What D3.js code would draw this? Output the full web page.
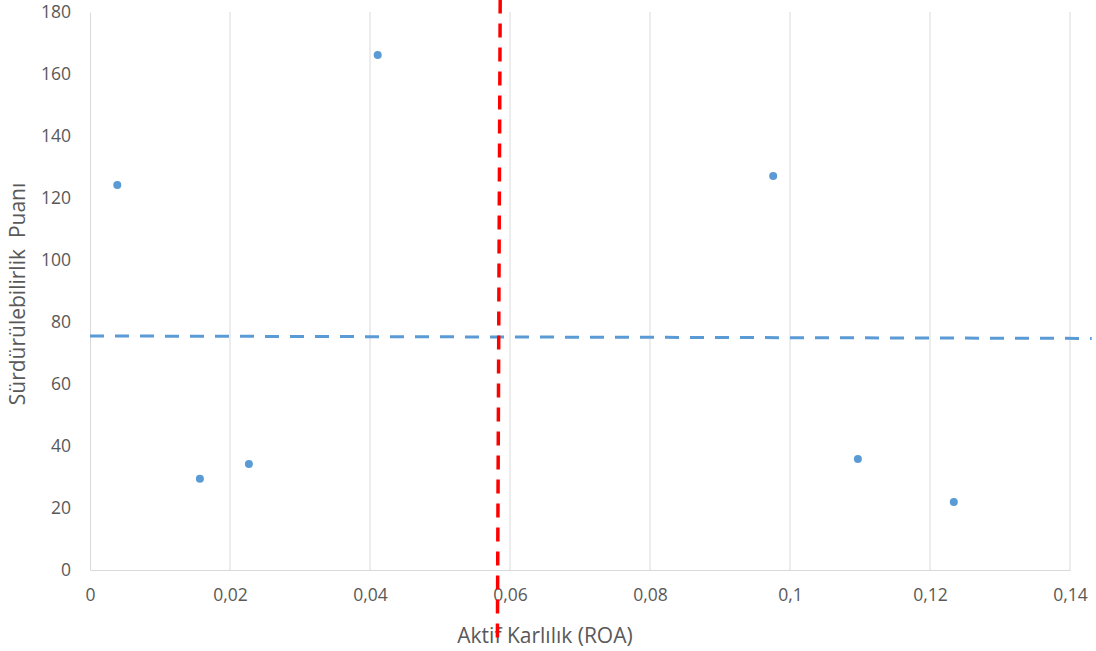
<!DOCTYPE html>
<html><head><meta charset="utf-8">
<script src="https://cdn.jsdelivr.net/npm/d3@7"></script>
<style>body{margin:0;background:#fff}svg{display:block}text{font-family:"Open Sans",sans-serif;fill:#595959}</style>
</head><body><svg id="c" width="1096" height="651"></svg>
<script>
const roa = [0.0039, 0.0157, 0.0227, 0.0411, 0.0976, 0.1097, 0.1234];
const score = [124.2, 29.4, 34.2, 166.1, 127.1, 35.8, 21.9];
const xTicks = [0, 0.02, 0.04, 0.06, 0.08, 0.1, 0.12, 0.14];
const yTicks = [0, 20, 40, 60, 80, 100, 120, 140, 160, 180];
const hLineX = [0, 0.1431];
const hLineY = [75.5, 74.7];
const vLineX = [0.0586, 0.0582];
const vLineY = [184, -22];

const svg = d3.select("#c");
const x = d3.scaleLinear().domain([0, 0.14]).range([90, 1070]);
const y = d3.scaleLinear().domain([0, 180]).range([570, 12]);
const fmt = d => String(d).replace(".", ",");

svg.append("g").selectAll("line").data(xTicks.slice(1)).join("line")
  .attr("x1", d => x(d)).attr("x2", d => x(d)).attr("y1", y(0)).attr("y2", y(180))
  .attr("stroke", "#d9d9d9").attr("stroke-width", 1);

const xa = svg.append("g").attr("transform", `translate(0,${y(0)})`)
  .call(d3.axisBottom(x).tickValues(xTicks).tickFormat(fmt).tickSize(0).tickPadding(19));
xa.select(".domain").attr("stroke", "#d9d9d9");
xa.selectAll("text").attr("font-size", 17.5).style("fill", "#595959");

const ya = svg.append("g").attr("transform", `translate(${x(0)},0)`)
  .call(d3.axisLeft(y).tickValues(yTicks).tickSize(0).tickPadding(19));
ya.select(".domain").attr("stroke", "#d9d9d9");
ya.selectAll("text").attr("font-size", 17.5).style("fill", "#595959");

svg.append("text").attr("x", 545).attr("y", 643).attr("text-anchor", "middle")
  .attr("font-size", 21).text("Aktif Karlılık (ROA)");
svg.append("text").attr("transform", "translate(25,294) rotate(-90)").attr("text-anchor", "middle")
  .attr("font-size", 21).attr("xml:space", "preserve").style("white-space", "pre").text("Sürdürülebilirlik  Puanı");

const line = d3.line().x(d => x(d[0])).y(d => y(d[1]));
svg.append("path").attr("d", line(hLineX.map((v, i) => [v, hLineY[i]])))
  .attr("fill", "none").attr("stroke", "#5b9bd5").attr("stroke-width", 3).attr("stroke-dasharray", "14,11");

svg.append("g").selectAll("circle").data(roa).join("circle")
  .attr("cx", d => x(d)).attr("cy", (d, i) => y(score[i])).attr("r", 4).attr("fill", "#5b9bd5");

svg.append("path").attr("d", line(vLineX.map((v, i) => [v, vLineY[i]])))
  .attr("fill", "none").attr("stroke", "#ff0000").attr("stroke-width", 3.5).attr("stroke-dasharray", "14,10");
</script></body></html>
